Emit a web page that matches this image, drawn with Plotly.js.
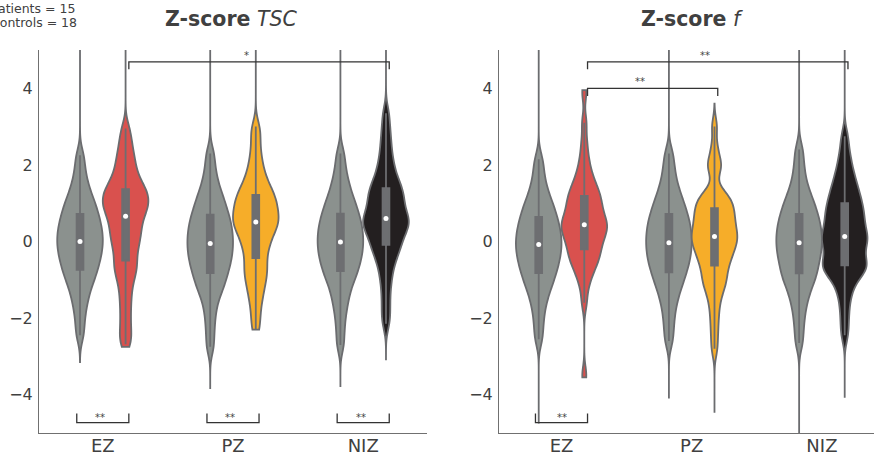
<!DOCTYPE html>
<html><head><meta charset="utf-8">
<script src="https://cdn.plot.ly/plotly-3.0.1.min.js"></script>
<style>html,body{margin:0;padding:0;background:#fff}#chart{width:874px;height:455px}</style>
</head><body><div id="chart"></div>
<script>
// ---- data ----
const categories = ['EZ', 'PZ', 'NIZ'];
const nPatients = 15;
const nControls = 18;

// Z-score TSC samples
const tscCtrlEZ = [-2.45,-2.1,-1.8,-1.58,-1.40,-1.24,-1.11,-1.00,-0.90,-0.81,-0.72,-0.64,-0.56,-0.48,-0.41,-0.34,-0.27,-0.20,-0.14,-0.06,0.00,0.06,0.12,0.20,0.26,0.33,0.40,0.47,0.54,0.62,0.70,0.78,0.87,0.96,1.06,1.17,1.30,1.46,1.66,1.92,2.25];
const tscPatEZ = [-2.68,-2.48,-2.22,-1.95,-1.68,-1.43,-1.2,-1.0,-0.85,-0.72,-0.62,-0.5,-0.36,-0.23,-0.12,-0.02,0.08,0.17,0.26,0.35,0.44,0.53,0.61,0.71,0.77,0.83,0.89,0.95,1.01,1.07,1.13,1.19,1.25,1.31,1.37,1.44,1.52,1.61,1.72,1.85,1.98,2.12,2.28,2.46,2.68,2.95];
const tscCtrlPZ = [-2.75,-2.35,-2.0,-1.72,-1.5,-1.33,-1.21,-1.10,-1.00,-0.90,-0.80,-0.72,-0.64,-0.56,-0.48,-0.41,-0.34,-0.26,-0.20,-0.12,-0.05,0.01,0.08,0.16,0.22,0.30,0.37,0.44,0.52,0.60,0.68,0.76,0.86,0.96,1.06,1.18,1.31,1.47,1.68,1.95,2.3];
const tscPatPZ = [-2.3,-2.0,-1.72,-1.5,-1.32,-1.17,-1.03,-0.91,-0.8,-0.69,-0.58,-0.47,-0.32,-0.22,-0.12,-0.03,0.06,0.14,0.22,0.29,0.36,0.42,0.47,0.51,0.56,0.62,0.68,0.74,0.8,0.86,0.92,0.98,1.04,1.1,1.17,1.23,1.3,1.38,1.47,1.57,1.69,1.83,2.0,2.2,2.45,2.75,3.0];
const tscCtrlNIZ = [-2.7,-2.3,-1.96,-1.7,-1.5,-1.32,-1.17,-1.04,-0.94,-0.84,-0.75,-0.67,-0.58,-0.51,-0.43,-0.36,-0.29,-0.22,-0.15,-0.08,-0.01,0.05,0.12,0.19,0.26,0.33,0.40,0.47,0.55,0.62,0.71,0.79,0.88,0.98,1.08,1.20,1.34,1.5,1.7,1.96,2.3];
const tscPatNIZ = [-2.15,-1.85,-1.55,-1.25,-1.0,-0.8,-0.62,-0.48,-0.36,-0.26,-0.18,-0.09,-0.01,0.07,0.14,0.21,0.28,0.34,0.40,0.45,0.50,0.54,0.58,0.62,0.69,0.76,0.83,0.9,0.97,1.04,1.11,1.18,1.25,1.32,1.39,1.47,1.56,1.66,1.78,1.92,2.08,2.26,2.48,2.72,3.0,3.35];
// extents [low, high] of each violin: controls, patients, per region
const tscCtrlSpan = [[-3.15, 5.5], [-3.85, 5.5], [-3.8, 5.5]];
const tscPatSpan = [[-2.75, 5.5], [-2.3, 5.5], [-3.1, 5.5]];

// Z-score f samples
const fCtrlEZ = [-2.55,-2.2,-1.9,-1.66,-1.47,-1.32,-1.19,-1.08,-0.98,-0.89,-0.80,-0.72,-0.64,-0.56,-0.49,-0.42,-0.35,-0.28,-0.22,-0.14,-0.08,-0.02,0.04,0.12,0.18,0.25,0.32,0.39,0.46,0.54,0.62,0.70,0.79,0.88,0.98,1.09,1.22,1.38,1.58,1.84,2.15];
const fPatEZ = [-3.5,-1.6,-1.2,-0.98,-0.82,-0.7,-0.6,-0.52,-0.44,-0.37,-0.3,-0.22,-0.15,-0.08,-0.02,0.05,0.11,0.17,0.23,0.29,0.34,0.38,0.41,0.44,0.5,0.56,0.62,0.68,0.74,0.8,0.87,0.94,1.01,1.08,1.14,1.21,1.28,1.36,1.45,1.55,1.67,1.82,2.0,2.25,2.6,3.1,3.9];
const fCtrlPZ = [-2.6,-2.25,-1.95,-1.7,-1.5,-1.34,-1.20,-1.08,-0.98,-0.88,-0.78,-0.70,-0.62,-0.54,-0.46,-0.39,-0.32,-0.24,-0.18,-0.10,-0.03,0.03,0.10,0.18,0.24,0.32,0.39,0.46,0.54,0.62,0.70,0.78,0.88,0.98,1.08,1.20,1.34,1.51,1.72,1.98,2.3];
const fPatPZ = [-2.8,-2.4,-2.05,-1.75,-1.5,-1.3,-1.18,-1.07,-0.96,-0.86,-0.76,-0.63,-0.55,-0.47,-0.39,-0.32,-0.25,-0.18,-0.11,-0.05,0.01,0.06,0.11,0.15,0.21,0.28,0.34,0.41,0.47,0.54,0.6,0.67,0.73,0.8,0.87,0.94,1.01,1.08,1.15,1.22,1.32,1.85,1.97,2.1,2.45,3.0];
const fCtrlNIZ = [-2.65,-2.28,-1.97,-1.72,-1.52,-1.36,-1.22,-1.1,-1.0,-0.91,-0.83,-0.74,-0.66,-0.57,-0.50,-0.42,-0.35,-0.28,-0.21,-0.14,-0.07,0.00,0.06,0.13,0.20,0.27,0.34,0.41,0.48,0.56,0.63,0.72,0.80,0.89,0.99,1.09,1.21,1.35,1.53,1.76,2.05,2.4];
const fPatNIZ = [-2.45,-2.1,-1.78,-1.5,-1.3,-1.14,-1.0,-0.9,-0.82,-0.76,-0.72,-0.68,-0.6,-0.56,-0.52,-0.44,-0.36,-0.28,-0.2,-0.13,-0.06,0.0,0.05,0.09,0.13,0.2,0.27,0.34,0.41,0.48,0.55,0.62,0.69,0.76,0.83,0.9,0.98,1.06,1.14,1.23,1.32,1.42,1.53,1.65,1.79,1.95,2.15,2.4,2.75];
const fCtrlSpan = [[-4.75, 5.5], [-4.1, 5.5], [-5.5, 5.5]];
const fPatSpan = [[-3.55, 3.95], [-4.47, 3.6], [-4.08, 5.5]];

// significance labels
const sigTSCBottom = ['**', '**', '**'];
const sigTSCTop = ['*'];
const sigFBottom = ['**'];
const sigFTop = ['**', '**'];

// ---- styling ----
const ctrlColor = '#8b918e';
const patColors = ['#d9514e', '#f6ad29', '#231f20'];
const edge = '#6b6c6f';
const boxCol = '#6d6e71';
const txt = '#404040';
const OFF = 0.175;   // violin dodge
const SOFF = 0.2;    // bracket dodge

function median(a) {
  const s = a.slice().sort((p, q) => p - q);
  const m = Math.floor(s.length / 2);
  return s.length % 2 ? s[m] : (s[m - 1] + s[m]) / 2;
}

function violin(y, span, pos, color, xa, ya) {
  return {
    type: 'violin', y: y, x0: pos, width: 0.35, scalemode: 'width', spanmode: 'manual', span: span,
    bandwidth: 0.24, points: false, fillcolor: color,
    line: {color: edge, width: 1.8},
    box: {visible: true, width: 0.15, fillcolor: boxCol, line: {color: boxCol, width: 1.8}},
    meanline: {visible: false}, xaxis: xa, yaxis: ya, hoverinfo: 'skip', showlegend: false
  };
}

const panels = [
  {xa: 'x', ya: 'y', ctrl: [tscCtrlEZ, tscCtrlPZ, tscCtrlNIZ], pat: [tscPatEZ, tscPatPZ, tscPatNIZ], cs: tscCtrlSpan, ps: tscPatSpan},
  {xa: 'x2', ya: 'y2', ctrl: [fCtrlEZ, fCtrlPZ, fCtrlNIZ], pat: [fPatEZ, fPatPZ, fPatNIZ], cs: fCtrlSpan, ps: fPatSpan}
];

const traces = [];
panels.forEach(p => {
  const mx = [], my = [];
  categories.forEach((c, i) => {
    traces.push(violin(p.ctrl[i], p.cs[i], i - OFF, ctrlColor, p.xa, p.ya));
    traces.push(violin(p.pat[i], p.ps[i], i + OFF, patColors[i], p.xa, p.ya));
    mx.push(i - OFF, i + OFF);
    my.push(median(p.ctrl[i]), median(p.pat[i]));
  });
  traces.push({type: 'scatter', mode: 'markers', x: mx, y: my, xaxis: p.xa, yaxis: p.ya,
    marker: {color: '#ffffff', size: 5}, hoverinfo: 'skip', showlegend: false});
});

const annotations = [];
function bracket(xa, ya, x1, x2, yLine, yTick, label, labelShift, labelY) {
  traces.push({type: 'scatter', mode: 'lines', x: [x1, x1, x2, x2], y: [yTick, yLine, yLine, yTick],
    xaxis: xa, yaxis: ya, line: {color: '#333333', width: 1.3}, hoverinfo: 'skip', showlegend: false});
  annotations.push({xref: xa, yref: ya, x: (x1 + x2) / 2 + labelShift, y: labelY, text: label,
    showarrow: false, font: {size: 10, color: '#444444'}, xanchor: 'center', yanchor: 'middle', borderpad: 0});
}

// bottom brackets (controls vs patients within region)
sigTSCBottom.forEach((lab, i) => bracket('x', 'y', i - SOFF, i + SOFF, -4.73, -4.49, lab, -0.02, -4.6));
sigFBottom.forEach((lab, i) => bracket('x2', 'y2', i - SOFF, i + SOFF, -4.73, -4.49, lab, 0, -4.6));
// top brackets (patients between regions)
bracket('x', 'y', 0 + SOFF, 2 + SOFF, 4.69, 4.5, sigTSCTop[0], -0.1, 4.86);
bracket('x2', 'y2', 0 + SOFF, 2 + SOFF, 4.69, 4.5, sigFTop[0], -0.1, 4.86);
bracket('x2', 'y2', 0 + SOFF, 1 + SOFF, 4.0, 3.8, sigFTop[1], -0.1, 4.17);

// titles and counts
annotations.push({xref: 'paper', yref: 'paper', x: 232 / 874, y: 1 - 19 / 455, text: '<b>Z-score</b> <i>TSC</i>',
  showarrow: false, font: {size: 20.5, color: txt}, xanchor: 'center', yanchor: 'middle'});
annotations.push({xref: 'paper', yref: 'paper', x: 692 / 874, y: 1 - 19 / 455, text: '<b>Z-score</b> <i>f</i>',
  showarrow: false, font: {size: 20.5, color: txt}, xanchor: 'center', yanchor: 'middle'});
annotations.push({xref: 'paper', yref: 'paper', x: -10 / 874, y: 1 - 8 / 455, text: 'Patients = ' + nPatients,
  showarrow: false, font: {size: 12.5, color: txt}, xanchor: 'left', yanchor: 'middle', borderpad: 0});
annotations.push({xref: 'paper', yref: 'paper', x: -10 / 874, y: 1 - 22 / 455, text: 'Controls = ' + nControls,
  showarrow: false, font: {size: 12.5, color: txt}, xanchor: 'left', yanchor: 'middle', borderpad: 0});

const xBase = {tickvals: [0, 1, 2], ticktext: categories, showline: true, linecolor: '#707070', linewidth: 1,
  showgrid: false, zeroline: false, ticks: '', ticklabelstandoff: -4,
  tickfont: {size: 18, color: txt}, fixedrange: true, type: 'linear'};
const yBase = {range: [-5, 5], tickvals: [-4, -2, 0, 2, 4], showline: true, linecolor: '#707070', linewidth: 1,
  showgrid: false, zeroline: false, ticks: 'outside', ticklen: 2, tickcolor: 'rgba(0,0,0,0)',
  tickfont: {size: 16, color: txt}, fixedrange: true, domain: [22 / 455, 405 / 455]};

const layout = {
  width: 874, height: 455, margin: {l: 0, r: 0, t: 0, b: 0},
  paper_bgcolor: '#ffffff', plot_bgcolor: '#ffffff',
  font: {family: 'DejaVu Sans', color: txt, size: 16},
  showlegend: false, violinmode: 'overlay',
  xaxis: Object.assign({}, xBase, {domain: [39 / 874, 427 / 874], range: [-0.49, 2.49], anchor: 'y'}),
  yaxis: Object.assign({}, yBase, {anchor: 'x'}),
  xaxis2: Object.assign({}, xBase, {domain: [499 / 874, 1], range: [-0.48, 2.40], anchor: 'y2'}),
  yaxis2: Object.assign({}, yBase, {anchor: 'x2'}),
  annotations: annotations
};

Plotly.newPlot('chart', traces, layout, {staticPlot: true, displayModeBar: false});
</script>
</body></html>
